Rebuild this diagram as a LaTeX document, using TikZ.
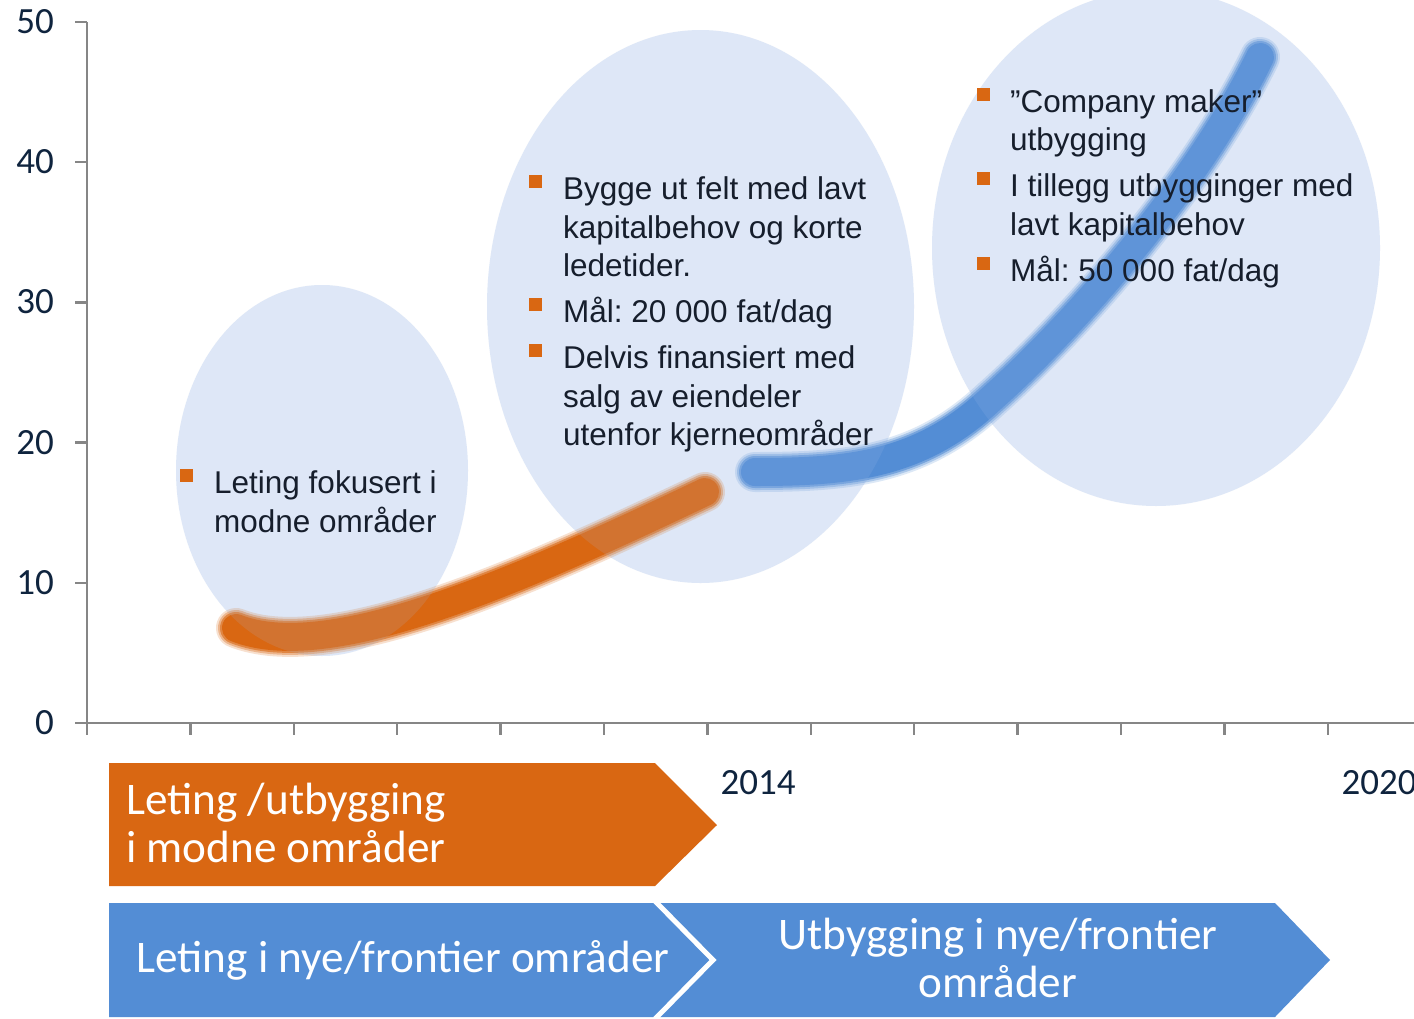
\documentclass[tikz,border=0pt]{standalone}
\usepackage{fontspec}
\setmainfont{Liberation Sans}
\newfontfamily\calib{Carlito}
\frenchspacing
\definecolor{orng}{RGB}{217,103,18}
\definecolor{blu}{RGB}{83,141,213}
\definecolor{ellfill}{RGB}{170,195,235}
\definecolor{axgray}{RGB}{134,134,134}
\definecolor{navy}{RGB}{15,36,62}
\definecolor{txt}{RGB}{22,30,44}
\begin{document}
\begin{tikzpicture}[x=1pt,y=-1pt,
  axlab/.style={font=\calib\fontsize{37}{40}\selectfont, text=navy, inner sep=0pt},
  bl/.style={font=\fontsize{31.5}{38}\selectfont, text=txt, anchor=base west, inner sep=0pt},
  sq/.style={fill=orng, minimum size=13pt, inner sep=0pt, draw=none},
  ell/.style={fill=ellfill, fill opacity=0.28, draw=none},
  ellover/.style={fill=ellfill, fill opacity=0.14, draw=none},
  arrtxt/.style={font=\calib\fontsize{45.2}{48}\selectfont, text=white, inner sep=0pt},
  axis/.style={draw=axgray, line width=2.5pt}
]
\useasboundingbox (0,0) rectangle (1414,1018);
\fill[white] (0,0) rectangle (1414,1018);

% axes
\draw[axis] (87,22) -- (87,723) -- (1414,723);
\foreach \i in {0,...,5} {
  \draw[axis] (75,{723-140.2*\i}) -- (87,{723-140.2*\i});
}
\foreach \k in {0,...,12} {
  \draw[axis] ({87+103.4*\k},723) -- ({87+103.4*\k},735);
}
\node[axlab, anchor=east] (y50) at (54,22) {50};
\node[axlab, anchor=east] (y40) at (54,162) {40};
\node[axlab, anchor=east] (y30) at (54,302) {30};
\node[axlab, anchor=east] (y20) at (54,443) {20};
\node[axlab, anchor=east] (y10) at (54,583) {10};
\node[axlab, anchor=east] (y0) at (54,723) {0};
\node[axlab] (x2014) at (758,783) {2014};
\node[axlab] (x2020) at (1379,783) {2020};

% ellipses (base layer)
\fill[ell] (322,470.5) ellipse [x radius=146pt, y radius=185.5pt];
\fill[ell] (700.5,306.5) ellipse [x radius=213.5pt, y radius=276.5pt];
\fill[ell] (1156,248) ellipse [x radius=224pt, y radius=258pt];

% curves
\coordinate (oA) at (236,628);
\coordinate (oB) at (705,492);
\coordinate (bA) at (755,472);
\coordinate (bM) at (990,400);
\coordinate (bB) at (1260,57);
\foreach \w/\o in {40/0.2,36/0.35,32/0.6,28/1} {
  \draw[orng, line width=\w pt, line cap=round, draw opacity=\o]
    (oA) .. controls (330,665) and (520,580) .. (oB);
  \draw[blu, line width=\w pt, line cap=round, draw opacity=\o]
    (bA) .. controls (850,472) and (920,465) .. (bM)
    .. controls (1080,320) and (1200,180) .. (bB);
}

% ellipses (light overlay)
\fill[ellover] (322,470.5) ellipse [x radius=146pt, y radius=185.5pt];
\fill[ellover] (700.5,306.5) ellipse [x radius=213.5pt, y radius=276.5pt];
\fill[ellover] (1156,248) ellipse [x radius=224pt, y radius=258pt];

% bullets ellipse 1
\node[sq] (s1) at (186,475) {};
\node[bl] (t1a) at (214,493) {Leting fokusert i};
\node[bl] (t1b) at (214,532) {modne områder};
% ellipse 2
\node[sq] (s2) at (535,181) {};
\node[bl] (t2a) at (563,199) {Bygge ut felt med lavt};
\node[bl] (t2b) at (563,238) {kapitalbehov og korte};
\node[bl] (t2c) at (563,276) {ledetider.};
\node[sq] (s3) at (535,304) {};
\node[bl] (t3a) at (563,322) {Mål: 20 000 fat/dag};
\node[sq] (s4) at (535,350) {};
\node[bl] (t4a) at (563,368) {Delvis finansiert med};
\node[bl] (t4b) at (563,407) {salg av eiendeler};
\node[bl] (t4c) at (563,445) {utenfor kjerneområder};
% ellipse 3
\node[sq] (s5) at (983,94) {};
\node[bl] (t5a) at (1010,112) {”Company maker”};
\node[bl] (t5b) at (1010,150) {utbygging};
\node[sq] (s6) at (983,178) {};
\node[bl] (t6a) at (1010,196) {I tillegg utbygginger med};
\node[bl] (t6b) at (1010,235) {lavt kapitalbehov};
\node[sq] (s7) at (983,263) {};
\node[bl] (t7a) at (1010,281) {Mål: 50 000 fat/dag};

% bottom arrows
\fill[orng] (109,763) -- (655,763) -- (717,825) -- (655,886) -- (109,886) -- cycle;
\node[arrtxt, anchor=base west] (ar1a) at (126,814) {Leting /utbygging};
\node[arrtxt, anchor=base west] (ar1b) at (126,862) {i modne områder};

\fill[blu] (109,903) -- (655,903) -- (713,960) -- (655,1017) -- (109,1017) -- cycle;
\fill[blu] (655,903) -- (1275,903) -- (1330,960) -- (1275,1017) -- (655,1017) -- (713,960) -- cycle;
\draw[white, line width=5pt, line join=miter] (655,901) -- (713,960) -- (655,1019);
\node[arrtxt] (ar2) at (403,960) {Leting i nye/frontier områder};
\node[arrtxt, anchor=base] (ar3a) at (998,949) {Utbygging i nye/frontier};
\node[arrtxt, anchor=base] (ar3b) at (998,997) {områder};
\end{tikzpicture}
\end{document}
